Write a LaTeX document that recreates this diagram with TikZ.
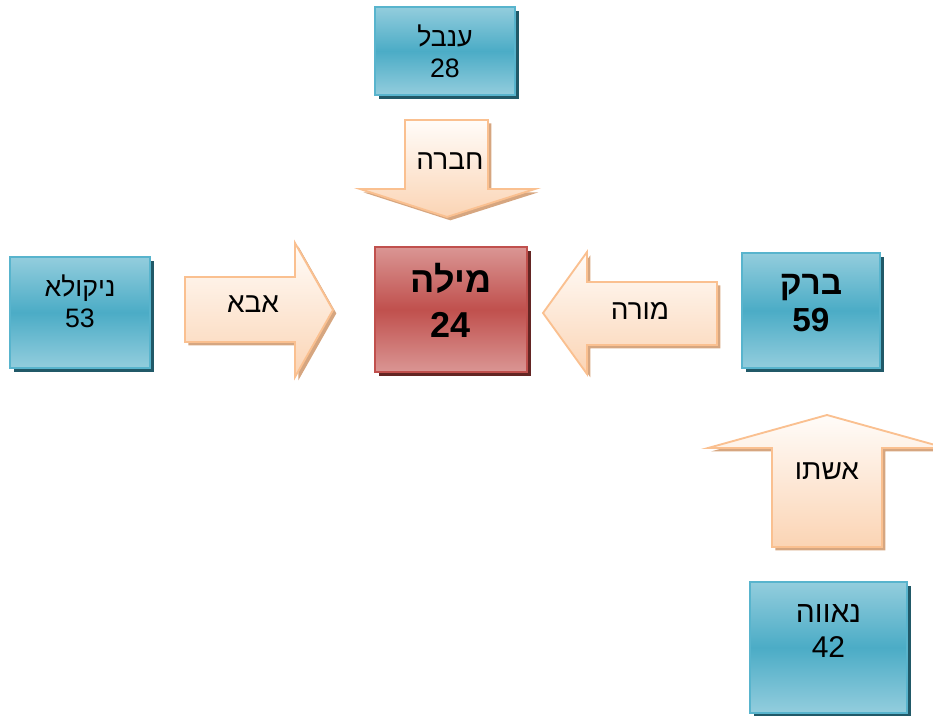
\documentclass[tikz,border=0pt]{standalone}
\usepackage{fontspec}
\setmainfont{Liberation Sans}
\newfontfamily\hebfont[Script=Hebrew]{Liberation Sans}
\TeXXeTstate=1
\usetikzlibrary{shadows}
\definecolor{tealtop}{RGB}{147,205,221}
\definecolor{tealmid}{RGB}{75,172,198}
\definecolor{tealline}{RGB}{88,180,205}
\definecolor{tealshadow}{RGB}{33,89,104}
\definecolor{redtop}{RGB}{218,150,148}
\definecolor{redmid}{RGB}{192,80,77}
\definecolor{redshadow}{RGB}{99,37,35}
\definecolor{peachtop}{RGB}{255,252,249}
\definecolor{peachbot}{RGB}{251,212,180}
\definecolor{peachline}{RGB}{250,192,144}
\definecolor{peachshadow}{RGB}{214,166,128}
\newcommand{\heb}[1]{\beginR #1\endR}
\tikzstyle{blockarrow} = [draw=peachline,line width=1.4pt,top color=peachtop,bottom color=peachbot,
    drop shadow={shadow xshift=2.5pt,shadow yshift=-2.5pt,fill=peachshadow,opacity=1}]

\begin{document}
\begin{tikzpicture}
        [
            x=0.75pt,y=-0.75pt,
            tealbox/.style={rectangle,line width=1.2pt,draw=tealline,top color=tealtop,bottom color=tealtop,middle color=tealmid,
                drop shadow={shadow xshift=3pt,shadow yshift=-3pt,fill=tealshadow,opacity=1}},
            redbox/.style={rectangle,line width=1.2pt,draw=redmid,top color=redtop,bottom color=redtop,middle color=redmid,
                drop shadow={shadow xshift=3pt,shadow yshift=-3pt,fill=redshadow,opacity=1}},
            boxtext/.style={anchor=north,inner sep=0pt,align=center,font=\hebfont\fontsize{20}{23.25}\selectfont},
            boldtext/.style={boxtext,font=\hebfont\bfseries\fontsize{27}{34}\selectfont},
            lbl/.style={inner sep=0pt,font=\hebfont\fontsize{21}{25}\selectfont},
        ]
    \useasboundingbox (0,0) rectangle (933,715);

    % people
    \node[tealbox,minimum width=105pt,minimum height=66pt] (anbal) at (445,51) {};
    \node[boxtext] (anbaltext) at ([yshift=-13.7pt]anbal.north) {\strut\heb{ענבל}\\28};

    \node[redbox,minimum width=114pt,minimum height=94pt] (mila) at (451,309.5) {};
    \node[boldtext] (milatext) at ([yshift=-10.7pt]mila.north) {\strut\heb{מילה}\\24};

    \node[tealbox,minimum width=105pt,minimum height=83pt] (nikola) at (80,312.5) {};
    \node[boxtext] (nikolatext) at ([yshift=-13.7pt]nikola.north) {\strut\heb{ניקולא}\\53};

    \node[tealbox,minimum width=103.5pt,minimum height=86pt] (barak) at (811,310.5) {};
    \node[boldtext,font=\hebfont\bfseries\fontsize{25}{27.75}\selectfont] (baraktext)
        at ([yshift=-12.1pt]barak.north) {\strut\heb{ברק}\\59};

    \node[tealbox,minimum width=118pt,minimum height=98pt] (naava) at (828.5,647.5) {};
    \node[boxtext,font=\hebfont\fontsize{22.5}{26.25}\selectfont] (naavatext)
        at ([yshift=-12.4pt]naava.north) {\strut\heb{נאווה}\\42};

    % relations
    \draw[blockarrow] (405,120) -- (488,120) -- (488,189) -- (535,189) -- (447,217) -- (360,189) -- (405,189) -- cycle;
    \draw[blockarrow] (185,277) -- (295,277) -- (295,243) -- (333,310) -- (295,377) -- (295,342) -- (185,342) -- cycle;
    \draw[blockarrow] (717,282) -- (587,282) -- (587,252) -- (543,313) -- (587,374) -- (587,345) -- (717,345) -- cycle;
    \draw[blockarrow] (772,547) -- (772,448) -- (708,448) -- (827,415) -- (946,448) -- (882,448) -- (882,547) -- cycle;

    \node[lbl] (havera) at (450,161) {\heb{חברה}};
    \node[lbl] (aba) at (253,304) {\heb{אבא}};
    \node[lbl] (mora) at (640,311) {\heb{מורה}};
    \node[lbl] (ishto) at (827,471) {\heb{אשתו}};
\end{tikzpicture}
\end{document}
